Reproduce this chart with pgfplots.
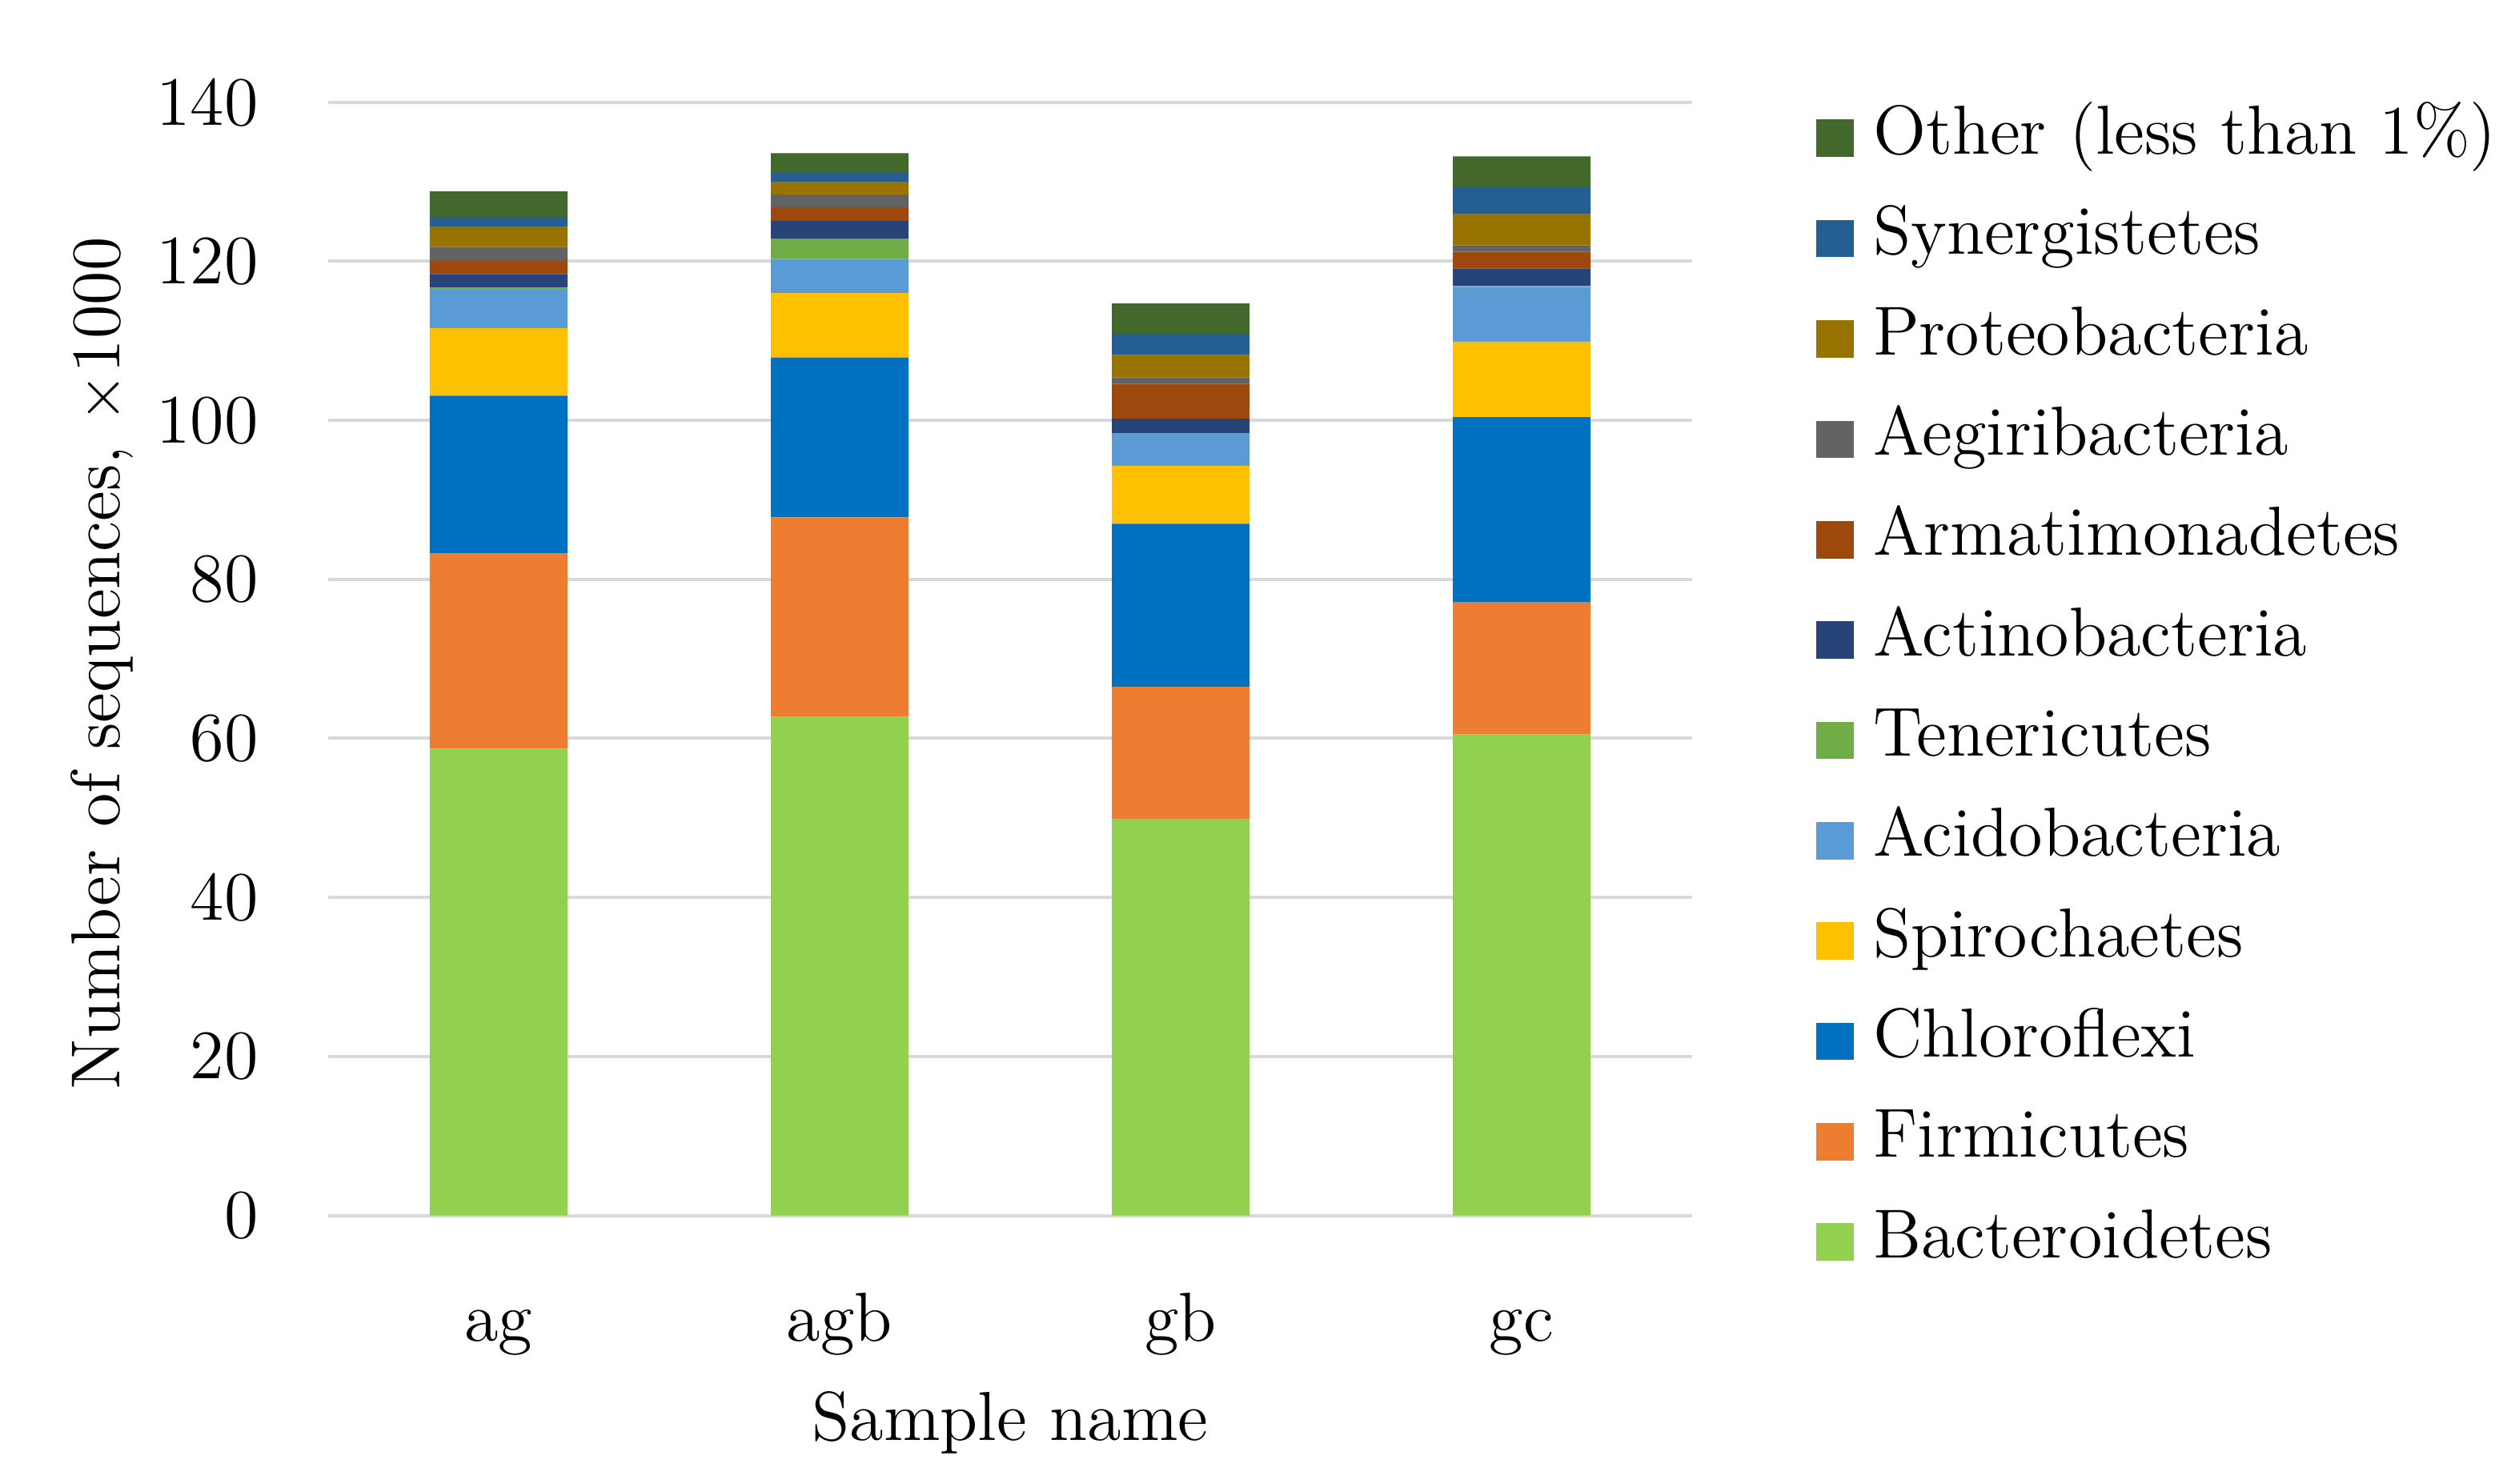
\documentclass[border=0pt]{standalone}
\usepackage{graphicx}
\usepackage{pgfplots}
\pgfplotsset{compat=1.18}
\usepackage{pgfplotstable}
\definecolor{cBact}{HTML}{92D050}
\definecolor{cFirm}{HTML}{ED7D31}
\definecolor{cChlo}{HTML}{0070C0}
\definecolor{cSpir}{HTML}{FFC000}
\definecolor{cAcid}{HTML}{5B9BD5}
\definecolor{cTene}{HTML}{70AD47}
\definecolor{cActi}{HTML}{264478}
\definecolor{cArma}{HTML}{9E480E}
\definecolor{cAegi}{HTML}{636363}
\definecolor{cProt}{HTML}{997300}
\definecolor{cSyne}{HTML}{255E91}
\definecolor{cOthe}{HTML}{43682B}
\definecolor{gridgray}{HTML}{D9D9D9}
\pgfplotstableread{
x Bact Firm Chlo Spir Acid Tene Acti Arma Aegi Prot Syne Othe
0 58.7 24.6 19.8 8.5 4.9 0.2 1.7 1.65 1.75 2.6 1.2 3.2
1 62.7 25.1 20.1 8.1 4.3 2.5 2.3 1.7 1.6 1.6 1.2 2.4
2 49.9 16.6 20.5 7.3 4.0 0.1 1.8 4.4 0.8 2.8 2.7 3.8
3 60.5 16.6 23.3 9.5 6.9 0.1 2.2 2.1 0.8 4.0 3.4 3.8
}\data
\begin{document}
\fontsize{13}{15.6}\selectfont
\begin{tikzpicture}
\path[use as bounding box] (-61.5pt,-50.175pt) rectangle (408.3pt,227.775pt);
\begin{axis}[
  at={(0,0)}, anchor=south west,
  scale only axis, width=255.6pt, height=208.6pt,
  ybar stacked, bar width=25.8pt,
  xmin=-0.5, xmax=3.5, ymin=0, ymax=140, enlargelimits=false,
  xtick={0,1,2,3}, xticklabels={ag,agb,gb,gc},
  ytick={0,20,...,140},
  ymajorgrids, grid style={color=gridgray, line width=0.6pt},
  axis line style={draw=none}, tick style={draw=none}, major tick length=0pt,
  /pgf/number format/assume math mode=true,
  yticklabel style={anchor=east, inner sep=0pt, xshift=-12.9pt},
  xticklabel style={anchor=base, inner sep=0pt, yshift=-23.5pt},
  xlabel={Sample name},
  xlabel style={at={(axis description cs:0.5,0)}, anchor=base, inner sep=0pt, yshift=-42.2pt},
  ylabel={Number of sequences, $\times$1000},
  ylabel style={at={(axis description cs:-0.1526,0.496)}, anchor=base, inner sep=0pt},
  legend style={at={(axis description cs:1.0904,1)}, anchor=north west, yshift=0pt,
    draw=none, fill=none,
    inner sep=0pt, row sep=6.3pt,
    nodes={inner sep=0pt, text height=9.5pt, text depth=3pt},
    /tikz/every odd column/.append style={column sep=3.6pt}},
  legend cell align=left,
  legend image code/.code={\fill[#1] (0pt,-3.8pt) rectangle (7pt,3.2pt);},
  reverse legend,
]
\addplot[fill=cBact, draw=none] table[x=x,y=Bact]{\data}; \addlegendentry{Bacteroidetes}
\addplot[fill=cFirm, draw=none] table[x=x,y=Firm]{\data}; \addlegendentry{Firmicutes}
\addplot[fill=cChlo, draw=none] table[x=x,y=Chlo]{\data}; \addlegendentry{Chloroflexi}
\addplot[fill=cSpir, draw=none] table[x=x,y=Spir]{\data}; \addlegendentry{Spirochaetes}
\addplot[fill=cAcid, draw=none] table[x=x,y=Acid]{\data}; \addlegendentry{Acidobacteria}
\addplot[fill=cTene, draw=none] table[x=x,y=Tene]{\data}; \addlegendentry{Tenericutes}
\addplot[fill=cActi, draw=none] table[x=x,y=Acti]{\data}; \addlegendentry{Actinobacteria}
\addplot[fill=cArma, draw=none] table[x=x,y=Arma]{\data}; \addlegendentry{Armatimonadetes}
\addplot[fill=cAegi, draw=none] table[x=x,y=Aegi]{\data}; \addlegendentry{Aegiribacteria}
\addplot[fill=cProt, draw=none] table[x=x,y=Prot]{\data}; \addlegendentry{Proteobacteria}
\addplot[fill=cSyne, draw=none] table[x=x,y=Syne]{\data}; \addlegendentry{Synergistetes}
\addplot[fill=cOthe, draw=none] table[x=x,y=Othe]{\data}; \addlegendentry{Other (less than 1\%)}
\end{axis}
\end{tikzpicture}
\end{document}
